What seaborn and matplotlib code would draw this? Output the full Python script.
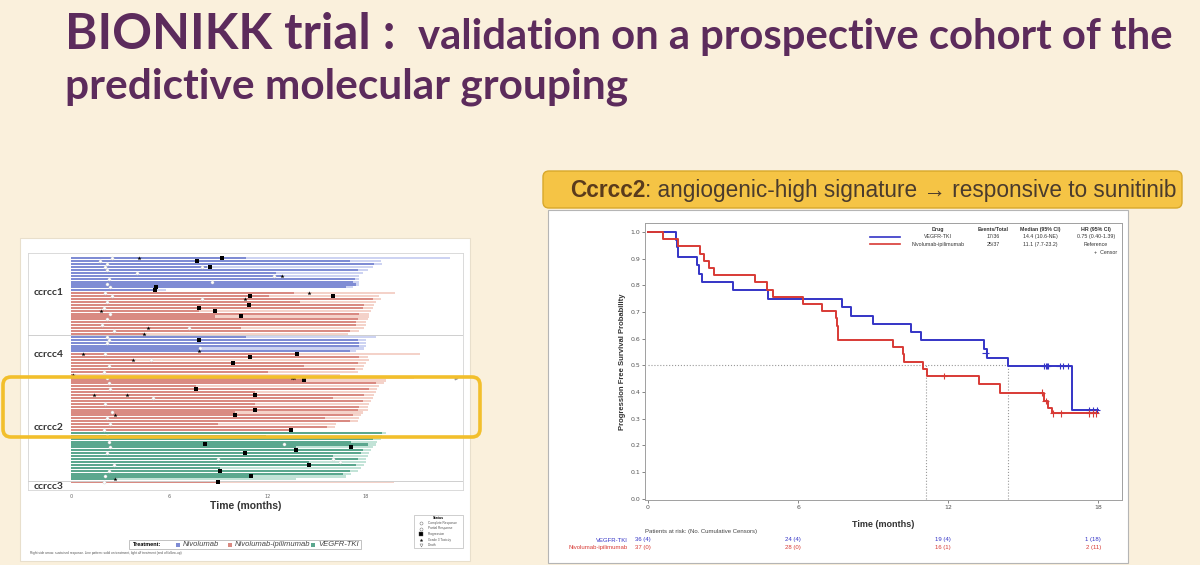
import numpy as np
import pandas as pd
import matplotlib
matplotlib.use('Agg')
import matplotlib.pyplot as plt
import matplotlib.transforms as mtransforms
from matplotlib.patches import Rectangle, FancyBboxPatch
import seaborn as sns

# ---------------- swimmer plot data (months) ----------------
# follow-up end / end of treatment, one value per patient, top to bottom
fu_c1_nivo = [23.1, 18.9, 19.0, 18.4, 18.1, 17.8, 17.6, 17.6, 17.6, 17.6, 17.2, 5.8]
trt_c1_nivo = [10.7, 17.0, 18.5, 8.3, 17.5, 12.5, 12.9, 17.3, 17.2, 17.4, 16.8, 5.1]
fu_c1_ipi = [19.8, 18.8, 18.9, 18.6, 18.5, 18.4, 18.3, 18.2, 18.2, 18.1, 18.0, 18.0, 17.9, 17.6, 16.9]
trt_c1_ipi = [13.6, 12.1, 18.4, 14.0, 17.9, 17.8, 7.8, 17.6, 8.8, 17.5, 17.4, 17.4, 10.4, 17.0, 4.5]
fu_c4_nivo = [18.6, 18.0, 18.0, 18.0, 17.9, 17.4]
trt_c4_nivo = [10.7, 17.5, 17.6, 17.6, 7.8, 17.0]
fu_c4_ipi = [21.3, 18.1, 18.2, 18.0, 17.9, 17.8, 17.5, 16.4]
trt_c4_ipi = [13.8, 17.6, 3.8, 17.5, 14.2, 17.3, 12.0, 0.1]
fu_c2_ipi = [20.9, 19.2, 19.1, 18.8, 18.7, 18.6, 18.5, 18.4, 18.3, 18.2,
             18.1, 18.1, 17.8, 17.7, 17.6, 17.5, 16.2, 16.1, 13.4]
trt_c2_ipi = [13.6, 14.2, 18.6, 7.6, 18.2, 11.2, 17.9, 16.0, 17.8, 11.2,
              17.6, 17.5, 10.0, 17.2, 15.5, 17.0, 9.0, 15.6, 13.4]
fu_c2_tki = [19.2, 19.0, 18.9, 18.7, 18.6, 18.4, 18.3, 18.2, 18.1, 18.0,
             18.0, 17.9, 17.7, 17.5, 17.1, 16.8, 13.7]
trt_c2_tki = [19.0, 11.9, 18.4, 17.1, 18.1, 13.7, 17.8, 17.7, 16.0, 17.5,
              14.5, 17.4, 9.1, 17.0, 16.6, 11.0, 2.7]
fu_c3_ipi = [19.7]
trt_c3_ipi = [9.0]

blocks = [
    ('Nivolumab', fu_c1_nivo, trt_c1_nivo),
    ('Nivolumab-ipilimumab', fu_c1_ipi, trt_c1_ipi),
    ('Nivolumab', fu_c4_nivo, trt_c4_nivo),
    ('Nivolumab-ipilimumab', fu_c4_ipi, trt_c4_ipi),
    ('Nivolumab-ipilimumab', fu_c2_ipi, trt_c2_ipi),
    ('VEGFR-TKI', fu_c2_tki, trt_c2_tki),
    ('Nivolumab-ipilimumab', fu_c3_ipi, trt_c3_ipi),
]

# events on the swimmer bars (row index, month)
pd_row = [0, 1, 3, 10, 11, 13, 13, 16, 17, 18, 20, 28, 33, 34, 36, 42, 45, 47, 52, 54, 59,
          64, 65, 66, 67, 71, 73, 75, 77]
pd_time = [9.2, 7.7, 8.5, 5.2, 5.1, 10.9, 16.0, 10.85, 7.8, 8.8, 10.4, 7.8, 13.8, 10.9, 9.9,
           14.2, 7.6, 11.2, 11.2, 10.0, 13.4, 8.2, 17.1, 13.7, 10.6, 14.5, 9.1, 11.0, 9.0]
tox_row = [0, 6, 12, 14, 18, 24, 26, 32, 33, 35, 40, 41, 41, 47, 47, 54, 76]
tox_time = [4.15, 12.9, 14.5, 10.6, 1.85, 4.7, 4.45, 7.8, 0.75, 3.8, 0.1, 13.5, 13.6, 1.4, 3.4, 2.7, 2.7]
resp_row = [0, 1, 2, 3, 4, 5, 7, 9, 10, 12, 13, 15, 17, 19, 21, 23, 25, 27, 28, 29, 31,
            33, 35, 37, 39, 41, 43, 45, 48, 50, 53, 55, 57, 59, 61, 63, 65, 67, 69, 71, 73, 75, 77,
            3, 6, 8, 14, 24, 64, 69, 70]
resp_time = [2.5, 1.8, 2.2, 2.1, 2.2, 4.0, 2.3, 2.2, 2.4, 2.1, 2.5, 2.2, 2.0, 2.4, 2.2, 1.9, 2.6,
             2.2, 2.3, 2.2, 7.9, 2.1, 4.9, 2.3, 2.0, 2.2, 2.3, 2.4, 5.0, 2.1, 2.5, 2.2, 2.4, 2.0,
             2.2, 2.3, 2.4, 2.2, 9.0, 2.6, 2.3, 2.1, 2.0, 8.0, 12.4, 8.6, 8.0, 7.2, 13.0, 16.0, 16.4]

group_names = ['ccrcc1', 'ccrcc4', 'ccrcc2', 'ccrcc3']
group_label_row = [11.6, 33.1, 58.2, 78.5]
group_breaks = [26.5, 40.5, 76.5]

# ---------------- Kaplan-Meier data ----------------
tki_time = [0, 1.12, 1.16, 1.2, 1.95, 2.05, 2.16, 3.39, 4.8, 7.75, 8.12, 9.0, 10.5, 10.9,
            13.44, 13.55, 14.4, 16.96, 18.0]
tki_surv = [1.0, 0.972, 0.944, 0.906, 0.875, 0.843, 0.812, 0.781, 0.749, 0.718, 0.687, 0.656,
            0.625, 0.594, 0.562, 0.529, 0.497, 0.332, 0.332]
ipi_time = [0, 0.59, 1.21, 2.08, 2.25, 2.45, 2.65, 4.28, 4.75, 4.99, 6.21, 6.95, 7.52, 7.55,
            7.58, 7.6, 9.8, 10.2, 10.25, 11.0, 11.15, 13.25, 14.08, 15.85, 16.0, 16.15, 18.0]
ipi_surv = [1.0, 0.973, 0.946, 0.919, 0.892, 0.865, 0.838, 0.811, 0.784, 0.757, 0.730, 0.703,
            0.676, 0.649, 0.622, 0.595, 0.568, 0.541, 0.514, 0.487, 0.460, 0.429, 0.398, 0.366,
            0.34, 0.32, 0.32]
tki_cens_t = [13.5, 15.85, 15.9, 15.95, 15.99, 16.46, 16.6, 16.78, 17.64, 17.78, 17.94]
tki_cens_s = [0.545, 0.497, 0.497, 0.497, 0.497, 0.497, 0.497, 0.497, 0.332, 0.332, 0.332]
ipi_cens_t = [11.84, 15.75, 15.9, 16.2, 16.5, 17.64, 17.78, 17.91]
ipi_cens_s = [0.460, 0.398, 0.366, 0.32, 0.32, 0.32, 0.32, 0.32]
tki_median, ipi_median = 14.4, 11.1

risk_times = [0, 6, 12, 18]
risk_tki = ['36 (4)', '24 (4)', '19 (4)', '1 (18)']
risk_ipi = ['37 (0)', '28 (0)', '16 (1)', '2 (11)']

# ---------------- styling ----------------
BG = '#faf0dc'
PURPLE = '#5c2b5c'
dark_pal = {'Nivolumab': '#7f8cd4', 'Nivolumab-ipilimumab': '#d98a82', 'VEGFR-TKI': '#5ba78e'}
light_pal = {'Nivolumab': '#cdd3f2', 'Nivolumab-ipilimumab': '#f4d2c9', 'VEGFR-TKI': '#c2e3d7'}
km_pal = {'VEGFR-TKI': '#3434c6', 'Nivolumab-ipilimumab': '#d83a35'}
SANS = ['Liberation Sans', 'DejaVu Sans']
TITLE = ['Lato', 'DejaVu Sans']

fig = plt.figure(figsize=(12, 5.65), dpi=100, facecolor=BG)
inch = fig.dpi_scale_trans


def fx(x):
    return x / 1200


def fy(y):
    return 1 - y / 565


# panels
fig.add_artist(Rectangle((0.20, (565 - 561) / 100), 4.50, 3.23, transform=inch,
                         fc='white', ec='#e8dfcc', lw=0.8, zorder=0))
fig.add_artist(Rectangle((5.48, (565 - 563) / 100), 5.80, 3.53, transform=inch,
                         fc='white', ec='#b5b5b5', lw=0.8, zorder=0))

# title
fig.text(fx(65), fy(49), 'BIONIKK trial :', fontsize=35.5, weight='bold', color=PURPLE,
         family=TITLE, va='baseline')
fig.text(fx(418), fy(49), 'validation on a prospective cohort of the', fontsize=30.2,
         weight='bold', color=PURPLE, family=TITLE, va='baseline')
fig.text(fx(65), fy(98), 'predictive molecular grouping', fontsize=30.5, weight='bold',
         color=PURPLE, family=TITLE, va='baseline')

# callout
fig.add_artist(FancyBboxPatch((5.43, (565 - 208) / 100), 6.39, 0.37,
                              boxstyle='round,pad=0,rounding_size=0.06', transform=inch,
                              fc='#f5c445', ec='#d8a82b', lw=1.0, zorder=1))
t1 = fig.text(fx(570), fy(190), 'Ccrcc2', fontsize=16.3, weight='bold', color='#5a3b1c',
              family=SANS, va='center', zorder=2)
fig.canvas.draw()
bb = t1.get_window_extent(fig.canvas.get_renderer())
fig.text(bb.x1 / fig.bbox.width, fy(190), ': angiogenic-high signature \u2192 responsive to sunitinib',
         fontsize=16.3, color='#4a3b2d', family=SANS, va='center', zorder=2)

# ---------------- swimmer plot ----------------
rows = []
for arm_name, fu, trt in blocks:
    for f, t in zip(fu, trt):
        rows.append({'row': f'p{len(rows):02d}', 'arm': arm_name, 'fu': f, 'trt': t})
swim = pd.DataFrame(rows)
order = list(swim['row'])

ax1 = fig.add_axes([27.7 / 1200, 1 - 490 / 565, 435 / 1200, 236.7 / 565])
sns.barplot(data=swim, x='fu', y='row', hue='arm', order=order, palette=light_pal, orient='y',
            dodge=False, width=0.72, errorbar=None, saturation=1, linewidth=0,
            legend=False, ax=ax1)
sns.barplot(data=swim, x='trt', y='row', hue='arm', order=order, palette=dark_pal, orient='y',
            dodge=False, width=0.72, errorbar=None, saturation=1, linewidth=0,
            legend=False, ax=ax1)
sns.scatterplot(x=resp_time, y=resp_row, marker='o', s=5, color='white',
                edgecolor='#d0d0d0', linewidth=0.3, ax=ax1, zorder=4)
sns.scatterplot(x=pd_time, y=pd_row, marker='s', s=11, color='black', linewidth=0, ax=ax1, zorder=5)
sns.scatterplot(x=tox_time, y=tox_row, marker='*', s=10, color='black', linewidth=0, ax=ax1, zorder=5)
ax1.scatter([23.5], [41], marker='>', s=3, color='#999999', zorder=5)
for b in group_breaks:
    ax1.axhline(b, color='#cfcfcf', lw=0.7, zorder=3)
for name, r in zip(group_names, group_label_row):
    ax1.text(-2.25, r, name, fontsize=7.5, weight='bold', color='#333333', family=TITLE,
             va='center', ha='left')
ax1.set_xlim(-2.64, 23.9)
ax1.set_ylim(79.65, -1.72)
ax1.set_xticks([0, 6, 12, 18])
ax1.set_xticklabels(['0', '6', '12', '18'], fontsize=3.5, color='#666666')
ax1.tick_params(axis='x', length=0, pad=3)
ax1.set_yticks([])
ax1.set_ylabel('')
ax1.set_xlabel('Time (months)', fontsize=7.5, weight='bold', color='#333333', family=SANS, labelpad=1)
for s in ax1.spines.values():
    s.set_color('#d5d5d5')
    s.set_linewidth(0.6)

# swimmer legends
fig.add_artist(Rectangle((fx(129), fy(549)), fx(232), 9.5 / 565, fc='white', ec='#aaaaaa', lw=0.5))
fig.text(fx(133), fy(544.5), 'Treatment:', fontsize=4, weight='bold', family=SANS, va='center')
for lab, xs in zip(['Nivolumab', 'Nivolumab-ipilimumab', 'VEGFR-TKI'], [178, 230, 313]):
    fig.add_artist(Rectangle((fx(xs - 2), fy(547)), fx(4), 4 / 565, fc=dark_pal[lab], lw=0))
    fig.text(fx(xs + 5), fy(544.5), lab, fontsize=5.5, style='italic', family=SANS,
             color='#444444', va='center')
fig.add_artist(Rectangle((fx(414), fy(548)), fx(49), 33 / 565, fc='white', ec='#bbbbbb', lw=0.5))
fig.text(fx(438), fy(518), 'Status', fontsize=2.6, weight='bold', family=SANS, ha='center', va='center')
status = [('o', 'white', 'Complete Response'), ('o', 'white', 'Partial Response'),
          ('s', 'black', 'Progression'), ('*', 'black', 'Grade 3 Toxicity'), ('v', 'white', 'Death')]
for i, (m, c, lab) in enumerate(status):
    yy = fy(523 + i * 5.5)
    fig.lines.append(plt.Line2D([fx(421)], [yy], marker=m, ms=2.2, mfc=c, mec='#555555', mew=0.3,
                                ls='none', transform=fig.transFigure, figure=fig))
    fig.text(fx(428), yy, lab, fontsize=2.3, family=SANS, color='#555555', va='center')
fig.text(fx(30), fy(553), 'Right side arrow: sustained response. Line pattern: solid on treatment, '
         'light off treatment (end of follow-up)', fontsize=2.3, family=SANS, color='#555555', va='center')

# highlight box around ccrcc2
fig.add_artist(FancyBboxPatch((0.03, (565 - 437) / 100), 4.77, 0.60,
                              boxstyle='round,pad=0,rounding_size=0.08', transform=inch,
                              fill=False, ec='#f2bf2c', lw=2.6, zorder=10))

# ---------------- Kaplan-Meier plot ----------------
km = pd.concat([
    pd.DataFrame({'time': tki_time, 'surv': tki_surv, 'drug': 'VEGFR-TKI'}),
    pd.DataFrame({'time': ipi_time, 'surv': ipi_surv, 'drug': 'Nivolumab-ipilimumab'}),
])
cens = pd.concat([
    pd.DataFrame({'time': tki_cens_t, 'surv': tki_cens_s, 'drug': 'VEGFR-TKI'}),
    pd.DataFrame({'time': ipi_cens_t, 'surv': ipi_cens_s, 'drug': 'Nivolumab-ipilimumab'}),
])

ax2 = fig.add_axes([645 / 1200, 1 - 500 / 565, 477 / 1200, 277 / 565])
ax2.plot([0, tki_median], [0.5, 0.5], ls=':', color='#999999', lw=0.8, zorder=1)
for m in [ipi_median, tki_median]:
    ax2.plot([m, m], [0, 0.5], ls=':', color='#999999', lw=0.8, zorder=1)
sns.lineplot(data=km, x='time', y='surv', hue='drug', palette=km_pal, drawstyle='steps-post',
             estimator=None, sort=False, lw=1.4, legend=False, ax=ax2, zorder=3)
sns.scatterplot(data=cens, x='time', y='surv', hue='drug', palette=km_pal, marker='+', s=22,
                linewidth=0.8, legend=False, ax=ax2, zorder=4)
ax2.set_xlim(-0.12, 18.95)
ax2.set_ylim(-0.005, 1.034)
ax2.set_xticks([0, 6, 12, 18])
ax2.set_yticks(np.round(np.arange(0, 1.01, 0.1), 1))
ax2.set_yticklabels([f'{v:.1f}' for v in np.arange(0, 1.01, 0.1)])
ax2.tick_params(labelsize=4.5, colors='#555555', length=2, width=0.5, pad=1.5)
ax2.set_xlabel('Time (months)', fontsize=6.5, weight='bold', color='#333333', family=SANS, labelpad=7)
ax2.set_ylabel('Progression Free Survival Probability', fontsize=5.5, weight='bold',
               color='#333333', family=SANS, labelpad=3)
for s in ax2.spines.values():
    s.set_color('#a0a0a0')
    s.set_linewidth(0.7)

# legend table inside the KM axes
cols_x = [0.614, 0.730, 0.828, 0.945]
header = ['Drug', 'Events/Total', 'Median (95% CI)', 'HR (95% CI)']
tab_tki = ['VEGFR-TKI', '17/36', '14.4 (10.6-NE)', '0.75 (0.40-1.39)']
tab_ipi = ['Nivolumab-ipilimumab', '25/37', '11.1 (7.7-23.2)', 'Reference']
for x, h in zip(cols_x, header):
    ax2.text(x, 0.978, h, transform=ax2.transAxes, fontsize=3.8, weight='bold', ha='center',
             va='center', family=SANS, color='#333333')
for yy, vals, drug in [(0.9505, tab_tki, 'VEGFR-TKI'), (0.923, tab_ipi, 'Nivolumab-ipilimumab')]:
    ax2.plot([0.472, 0.535], [yy, yy], transform=ax2.transAxes, color=km_pal[drug], lw=1.2)
    for x, v in zip(cols_x, vals):
        ax2.text(x, yy, v, transform=ax2.transAxes, fontsize=3.8, ha='center', va='center',
                 family=SANS, color='#333333')
ax2.text(0.99, 0.893, '+  Censor', transform=ax2.transAxes, fontsize=3.8, ha='right',
         va='center', family=SANS, color='#333333')

# patients at risk
blend = mtransforms.blended_transform_factory(ax2.transData, fig.transFigure)
fig.text(fx(645), fy(532), 'Patients at risk: (No. Cumulative Censors)', fontsize=4.3,
         family=SANS, color='#444444', va='center')
fig.text(fx(628), fy(540), 'VEGFR-TKI', fontsize=4.3, family=SANS, color=km_pal['VEGFR-TKI'],
         ha='right', va='center')
fig.text(fx(628), fy(547), 'Nivolumab-ipilimumab', fontsize=4.3, family=SANS,
         color=km_pal['Nivolumab-ipilimumab'], ha='right', va='center')
for t, a, b in zip(risk_times, risk_tki, risk_ipi):
    ax2.text(t - 0.2, fy(540), a, transform=blend, fontsize=4.3, family=SANS,
             color=km_pal['VEGFR-TKI'], ha='center', va='center')
    ax2.text(t - 0.2, fy(547), b, transform=blend, fontsize=4.3, family=SANS,
             color=km_pal['Nivolumab-ipilimumab'], ha='center', va='center')

fig.savefig('out.png', dpi=100, facecolor=BG)
